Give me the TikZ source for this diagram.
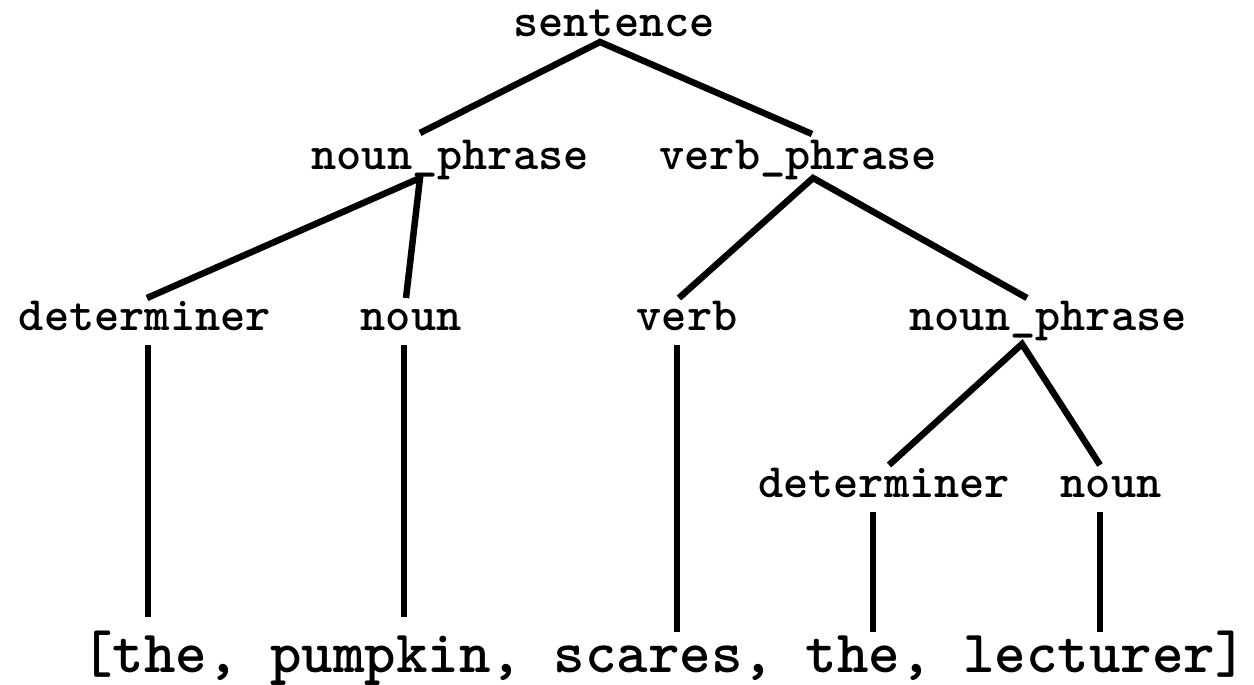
\documentclass[tikz,border=0pt]{standalone}
\begin{document}
\begin{tikzpicture}[x=1pt, y=-1pt,
  lbl/.style={anchor=base, inner sep=0pt, font=\ttfamily\bfseries\fontsize{48}{56}\selectfont},
  words/.style={anchor=base, inner sep=0pt, font=\ttfamily\bfseries\fontsize{60}{66}\selectfont},
  edge/.style={line width=6.5pt, line join=miter}]
\useasboundingbox (0,0) rectangle (1254,685);

% labels of the parse tree
\node[lbl] (s)   at (614,37)  {sentence};
\node[lbl] (np)  at (450,169) {noun\_phrase};
\node[lbl] (vp)  at (798,169) {verb\_phrase};
\node[lbl] (d1)  at (145,330) {determiner};
\node[lbl] (n1)  at (411,330) {noun};
\node[lbl] (v)   at (687,330) {verb};
\node[lbl] (np2) at (1048,330) {noun\_phrase};
\node[lbl] (d2)  at (884,497) {determiner};
\node[lbl] (n2)  at (1111,497) {noun};
\node[words] (w) at (664,672) {[the, pumpkin, scares, the, lecturer]};

% branch points and line ends
\coordinate (s-top)   at (600,42);
\coordinate (np-in)   at (420,133);
\coordinate (vp-in)   at (812,134);
\coordinate (np-top)  at (420,178);
\coordinate (d1-in)   at (147,298);
\coordinate (n1-in)   at (406,298);
\coordinate (vp-top)  at (813,178);
\coordinate (v-in)    at (679,298);
\coordinate (np2-in)  at (1027,298);
\coordinate (np2-top) at (1022,344);
\coordinate (d2-in)   at (889,465);
\coordinate (n2-in)   at (1100,465);
\coordinate (d1-out)  at (148,345);
\coordinate (d1-w)    at (148,617);
\coordinate (n1-out)  at (404,345);
\coordinate (n1-w)    at (404,617);
\coordinate (v-out)   at (677,345);
\coordinate (v-w)     at (677,632);
\coordinate (d2-out)  at (873,512);
\coordinate (d2-w)    at (873,632);
\coordinate (n2-out)  at (1100,512);
\coordinate (n2-w)    at (1100,632);

% branches
\draw[edge] (np-in) -- (s-top) -- (vp-in);
\draw[edge] (d1-in) -- (np-top) -- (n1-in);
\draw[edge] (v-in) -- (vp-top) -- (np2-in);
\draw[edge] (d2-in) -- (np2-top) -- (n2-in);

% leaves down to the word list
\draw[edge] (d1-out) -- (d1-w);
\draw[edge] (n1-out) -- (n1-w);
\draw[edge] (v-out) -- (v-w);
\draw[edge] (d2-out) -- (d2-w);
\draw[edge] (n2-out) -- (n2-w);
\end{tikzpicture}
\end{document}
